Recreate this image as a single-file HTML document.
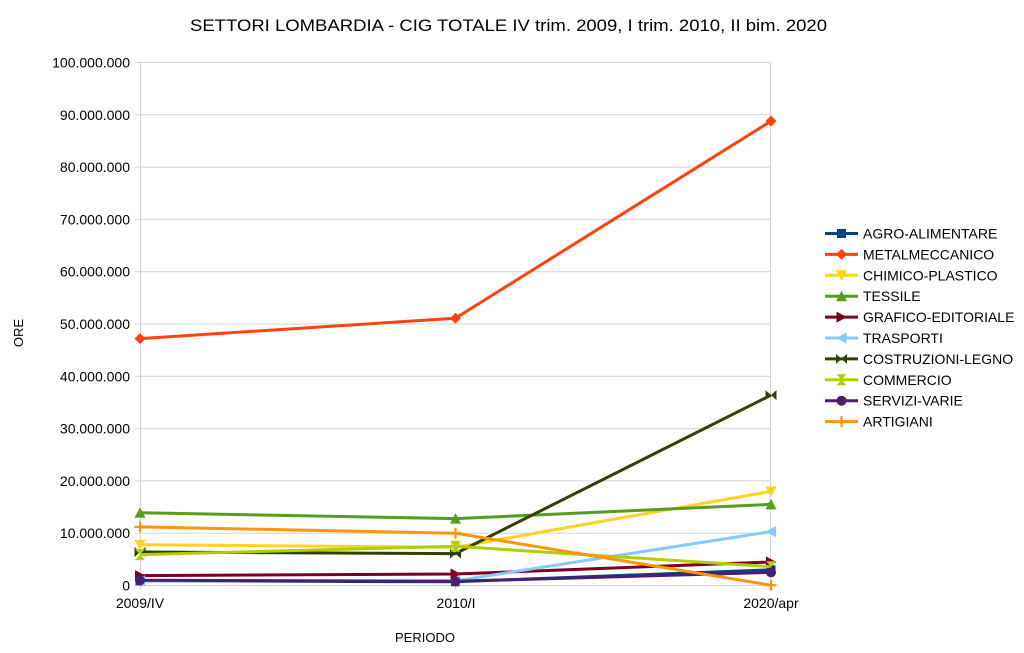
<!DOCTYPE html>
<html><head><meta charset="utf-8"><style>
html,body{margin:0;padding:0;background:#fff;}
svg{display:block;font-family:"Liberation Sans",Arial,sans-serif;}
</style></head><body>
<svg width="1024" height="653" viewBox="0 0 1024 653" xmlns="http://www.w3.org/2000/svg">
<rect width="1024" height="653" fill="#fff"/>
<text x="190" y="31" font-size="17" textLength="637" lengthAdjust="spacingAndGlyphs" fill="#000">SETTORI LOMBARDIA - CIG TOTALE  IV trim. 2009, I trim. 2010, II bim. 2020</text>
<g stroke="#d4d4d4" stroke-width="1" fill="none">
<line x1="135" y1="62.5" x2="770.5" y2="62.5"/>
<line x1="135" y1="114.8" x2="770.5" y2="114.8"/>
<line x1="135" y1="167.1" x2="770.5" y2="167.1"/>
<line x1="135" y1="219.4" x2="770.5" y2="219.4"/>
<line x1="135" y1="271.7" x2="770.5" y2="271.7"/>
<line x1="135" y1="324" x2="770.5" y2="324"/>
<line x1="135" y1="376.3" x2="770.5" y2="376.3"/>
<line x1="135" y1="428.6" x2="770.5" y2="428.6"/>
<line x1="135" y1="480.9" x2="770.5" y2="480.9"/>
<line x1="135" y1="533.2" x2="770.5" y2="533.2"/>
<line x1="135" y1="585.5" x2="770.5" y2="585.5"/>
<line x1="140.5" y1="62.5" x2="140.5" y2="590"/>
<line x1="770.5" y1="62.5" x2="770.5" y2="590"/>
<line x1="455.5" y1="585.5" x2="455.5" y2="590"/>
</g>
<g font-size="14" fill="#000" text-anchor="end">
<text x="130" y="67.5">100.000.000</text>
<text x="130" y="119.8">90.000.000</text>
<text x="130" y="172.1">80.000.000</text>
<text x="130" y="224.4">70.000.000</text>
<text x="130" y="276.7">60.000.000</text>
<text x="130" y="329">50.000.000</text>
<text x="130" y="381.3">40.000.000</text>
<text x="130" y="433.6">30.000.000</text>
<text x="130" y="485.9">20.000.000</text>
<text x="130" y="538.2">10.000.000</text>
<text x="130" y="590.5">0</text>
</g>
<g font-size="14" fill="#000" text-anchor="middle">
<text x="140" y="608">2009/IV</text>
<text x="456" y="608">2010/I</text>
<text x="771" y="608">2020/apr</text>
</g>
<text x="425" y="642" font-size="13" text-anchor="middle" fill="#000">PERIODO</text>
<text transform="translate(23,333) rotate(-90)" font-size="13" text-anchor="middle" fill="#000">ORE</text>

<defs>
<rect id="mSq" x="-4.5" y="-4.5" width="9" height="9"/>
<polygon id="mDi" points="0,-5.5 5.5,0 0,5.5 -5.5,0"/>
<polygon id="mDn" points="-5.5,-5 5.5,-5 0,5.5"/>
<polygon id="mUp" points="-5.5,5 5.5,5 0,-5.5"/>
<polygon id="mRt" points="-5,-5.5 5.5,0 -5,5.5"/>
<polygon id="mLt" points="5,-5.5 -5.5,0 5,5.5"/>
<polygon id="mBow" points="-5.5,-5 5.5,5 5.5,-5 -5.5,5"/>
<polygon id="mHg" points="-5,-5.5 5,-5.5 -5,5.5 5,5.5"/>
<circle id="mCi" r="5"/>
<path id="mPl" d="M-5.5,0H5.5M0,-5.5V5.5" stroke-width="2.2"/>
</defs>

<g fill="none" stroke-width="3" stroke-linejoin="round">
<!-- AGRO -->
<polyline points="140,580.8 455.5,581.8 771,569.8" stroke="#004586"/>
<g fill="#004586"><use href="#mSq" x="140" y="580.8"/><use href="#mSq" x="455.5" y="581.8"/><use href="#mSq" x="771" y="569.8"/></g>
<!-- METAL -->
<polyline points="140,338.6 455.5,318.2 771,121.1" stroke="#ff420e"/>
<g fill="#ff420e"><use href="#mDi" x="140" y="338.6"/><use href="#mDi" x="455.5" y="318.2"/><use href="#mDi" x="771" y="121.1"/></g>
<!-- CHIMICO -->
<polyline points="140,544.7 455.5,547.3 771,491.4" stroke="#ffd320"/>
<g fill="#ffd320"><use href="#mDn" x="140" y="544.7"/><use href="#mDn" x="455.5" y="547.3"/><use href="#mDn" x="771" y="491.4"/></g>
<!-- TESSILE -->
<polyline points="140,512.8 455.5,518.6 771,504.4" stroke="#579d1c"/>
<g fill="#579d1c"><use href="#mUp" x="140" y="512.8"/><use href="#mUp" x="455.5" y="518.6"/><use href="#mUp" x="771" y="504.4"/></g>
<!-- GRAFICO -->
<polyline points="140,575.6 455.5,574 771,562" stroke="#7e0021"/>
<g fill="#7e0021"><use href="#mRt" x="140" y="575.6"/><use href="#mRt" x="455.5" y="574"/><use href="#mRt" x="771" y="562"/></g>
<!-- TRASPORTI -->
<polyline points="140,580.8 455.5,580.8 771,531.6" stroke="#83caff"/>
<g fill="#83caff"><use href="#mLt" x="140" y="580.8"/><use href="#mLt" x="455.5" y="580.8"/><use href="#mLt" x="771" y="531.6"/></g>
<!-- COSTRUZIONI -->
<polyline points="140,552 455.5,553.6 771,395.1" stroke="#314004"/>
<g fill="#314004"><use href="#mBow" x="140" y="552"/><use href="#mBow" x="455.5" y="553.6"/><use href="#mBow" x="771" y="395.1"/></g>
<!-- COMMERCIO -->
<polyline points="140,554.6 455.5,546.3 771,566.7" stroke="#aecf00"/>
<g fill="#aecf00"><use href="#mHg" x="140" y="554.6"/><use href="#mHg" x="455.5" y="546.3"/><use href="#mHg" x="771" y="566.7"/></g>
<!-- SERVIZI -->
<polyline points="140,580.3 455.5,581.3 771,572.4" stroke="#4b1f6f"/>
<g fill="#4b1f6f"><use href="#mCi" x="140" y="580.3"/><use href="#mCi" x="455.5" y="581.3"/><use href="#mCi" x="771" y="572.4"/></g>
<!-- ARTIGIANI -->
<polyline points="140,526.9 455.5,533.2 771,585.2" stroke="#ff950e"/>
<g stroke="#ff950e"><use href="#mPl" x="140" y="526.9"/><use href="#mPl" x="455.5" y="533.2"/><use href="#mPl" x="771" y="585.2"/></g>
</g>

<!-- Legend -->
<g stroke-width="3" fill="none">
<line x1="825" y1="233.5" x2="858" y2="233.5" stroke="#004586"/>
<line x1="825" y1="254.4" x2="858" y2="254.4" stroke="#ff420e"/>
<line x1="825" y1="275.3" x2="858" y2="275.3" stroke="#ffd320"/>
<line x1="825" y1="296.2" x2="858" y2="296.2" stroke="#579d1c"/>
<line x1="825" y1="317.1" x2="858" y2="317.1" stroke="#7e0021"/>
<line x1="825" y1="338" x2="858" y2="338" stroke="#83caff"/>
<line x1="825" y1="358.9" x2="858" y2="358.9" stroke="#314004"/>
<line x1="825" y1="379.8" x2="858" y2="379.8" stroke="#aecf00"/>
<line x1="825" y1="400.7" x2="858" y2="400.7" stroke="#4b1f6f"/>
<line x1="825" y1="421.6" x2="858" y2="421.6" stroke="#ff950e"/>
</g>
<g>
<use href="#mSq" x="841.5" y="233.5" fill="#004586"/>
<use href="#mDi" x="841.5" y="254.4" fill="#ff420e"/>
<use href="#mDn" x="841.5" y="275.3" fill="#ffd320"/>
<use href="#mUp" x="841.5" y="296.2" fill="#579d1c"/>
<use href="#mRt" x="841.5" y="317.1" fill="#7e0021"/>
<use href="#mLt" x="841.5" y="338" fill="#83caff"/>
<use href="#mBow" x="841.5" y="358.9" fill="#314004"/>
<use href="#mHg" x="841.5" y="379.8" fill="#aecf00"/>
<use href="#mCi" x="841.5" y="400.7" fill="#4b1f6f"/>
<use href="#mPl" x="841.5" y="421.6" stroke="#ff950e" fill="none"/>
</g>
<g font-size="14" fill="#000">
<text x="863" y="238.5">AGRO-ALIMENTARE</text>
<text x="863" y="259.4">METALMECCANICO</text>
<text x="863" y="280.3">CHIMICO-PLASTICO</text>
<text x="863" y="301.2">TESSILE</text>
<text x="863" y="322.1">GRAFICO-EDITORIALE</text>
<text x="863" y="343">TRASPORTI</text>
<text x="863" y="363.9">COSTRUZIONI-LEGNO</text>
<text x="863" y="384.8">COMMERCIO</text>
<text x="863" y="405.7">SERVIZI-VARIE</text>
<text x="863" y="426.6">ARTIGIANI</text>
</g>
</svg>
</body></html>
